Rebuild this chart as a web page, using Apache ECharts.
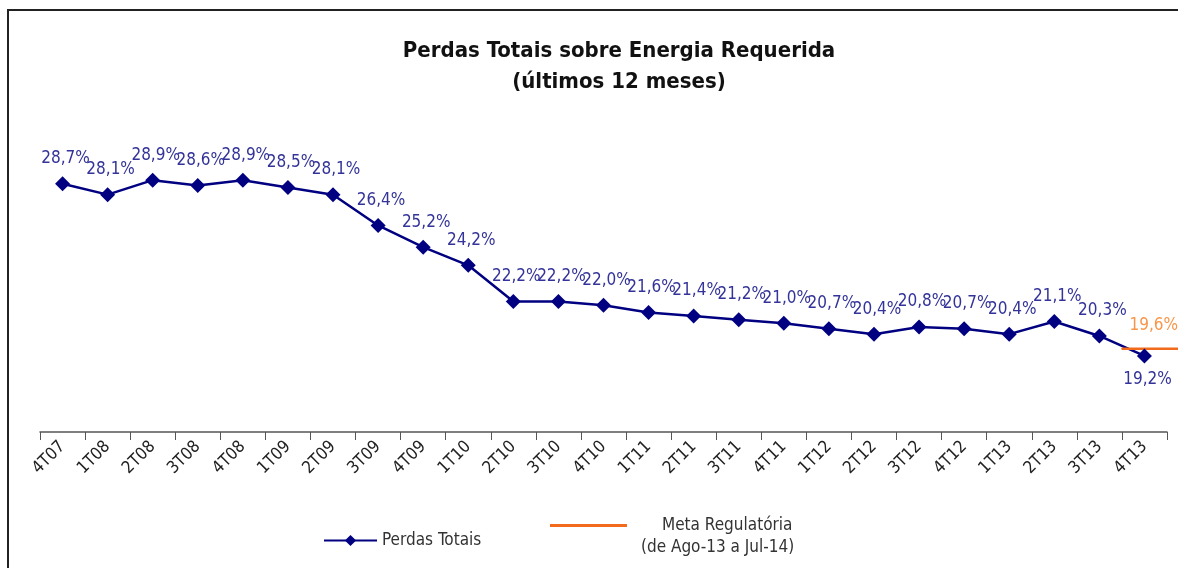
<!DOCTYPE html>
<html>
<head>
<meta charset="utf-8">
<script src="https://cdn.jsdelivr.net/npm/echarts@6/dist/echarts.min.js"></script>
<style>
  html, body { margin: 0; padding: 0; background: #fff; }
  #chart { width: 1178px; height: 568px; }
</style>
</head>
<body>
<div id="chart"></div>
<script>
const categories = ['4T07', '1T08', '2T08', '3T08', '4T08', '1T09', '2T09', '3T09', '4T09', '1T10', '2T10', '3T10', '4T10',
  '1T11', '2T11', '3T11', '4T11', '1T12', '2T12', '3T12', '4T12', '1T13', '2T13', '3T13', '4T13']
const perdasTotais = [28.7, 28.1, 28.9, 28.6, 28.9, 28.5, 28.1, 26.4, 25.2, 24.2, 22.2, 22.2, 22.0,
  21.6, 21.4, 21.2, 21.0, 20.7, 20.4, 20.8, 20.7, 20.4, 21.1, 20.3, 19.2]
// meta regulatória: starts at the 3T13/4T13 boundary, runs off the right edge
const metaRange = [24, 25.25]
const metaValue = 19.6

const font = "'Liberation Sans Narrow', 'Arial Narrow', 'DejaVu Sans Condensed', sans-serif"
const fmt = v => v.toFixed(1).replace('.', ',') + '%'

const chart = echarts.init(document.getElementById('chart'))

const option = {
  animation: false,
  title: {
    text: 'Perdas Totais sobre Energia Requerida\n(últimos 12 meses)',
    left: 614,
    textAlign: 'center',
    top: 31,
    textStyle: { fontFamily: font, fontSize: 22, fontWeight: 'bold', color: '#111', lineHeight: 31 }
  },
  legend: [
    {
      data: ['Perdas Totais'],
      left: 318,
      top: 527,
      itemWidth: 53,
      itemHeight: 14,
      textStyle: { fontFamily: font, fontSize: 17, color: '#333' }
    },
    {
      data: [{ name: 'Meta Regulatória', icon: 'rect' }],
      left: 545,
      top: 512,
      itemWidth: 77,
      itemHeight: 3,
      textStyle: { fontFamily: font, fontSize: 17, color: '#333', padding: [0, 0, 0, 30] }
    }
  ],
  graphic: [
    {
      type: 'rect',
      shape: { x: 8, y: 10, width: 1200, height: 600 },
      style: { fill: 'none', stroke: '#222', lineWidth: 2 },
      silent: true
    },
    {
      type: 'text',
      left: 641,
      top: 539,
      style: { text: '(de Ago-13 a Jul-14)', font: '17px ' + font, fill: '#333' }
    }
  ],
  grid: [
    { left: 40, right: 11, top: 124, bottom: 136 },
    { left: 40, right: 0, top: 124, bottom: 136 }
  ],
  xAxis: [
    {
      type: 'category',
      data: categories,
      boundaryGap: true,
      axisLine: { lineStyle: { color: '#555', width: 1.5 } },
      axisTick: { show: true, length: 8, lineStyle: { color: '#555' } },
      axisLabel: { rotate: 45, margin: 12, fontFamily: font, fontSize: 17, color: '#222', interval: 0 }
    },
    { type: 'value', gridIndex: 1, min: 0, max: metaRange[1], show: false }
  ],
  yAxis: [
    { type: 'value', min: 15, max: 32, show: false, splitLine: { show: false } },
    { type: 'value', gridIndex: 1, min: 15, max: 32, show: false, splitLine: { show: false } }
  ],
  series: [
    {
      name: 'Perdas Totais',
      type: 'line',
      data: perdasTotais.map((v, i) => i === perdasTotais.length - 1
        ? { value: v, label: { position: 'bottom', distance: 8 } }
        : v),
      symbol: 'diamond',
      symbolSize: 15,
      lineStyle: { color: '#000080', width: 2.5 },
      itemStyle: { color: '#000080' },
      label: {
        show: true,
        position: 'top',
        distance: 9,
        offset: [3, 0],
        formatter: p => fmt(p.value),
        fontFamily: font,
        fontSize: 17,
        color: '#333399'
      }
    },
    {
      name: 'Meta Regulatória',
      type: 'line',
      xAxisIndex: 1,
      yAxisIndex: 1,
      clip: false,
      data: metaRange.map(x => [x, metaValue]),
      symbol: 'circle',
      symbolSize: 1,
      lineStyle: { color: '#F26A1B', width: 2.5 },
      itemStyle: { color: '#F26A1B' },
      label: {
        show: true,
        position: 'top',
        align: 'right',
        distance: 14,
        formatter: p => (p.dataIndex === metaRange.length - 1 ? fmt(metaValue) : ''),
        fontFamily: font,
        fontSize: 17,
        color: '#F7964A'
      }
    }
  ]
}

chart.setOption(option)
</script>
</body>
</html>
